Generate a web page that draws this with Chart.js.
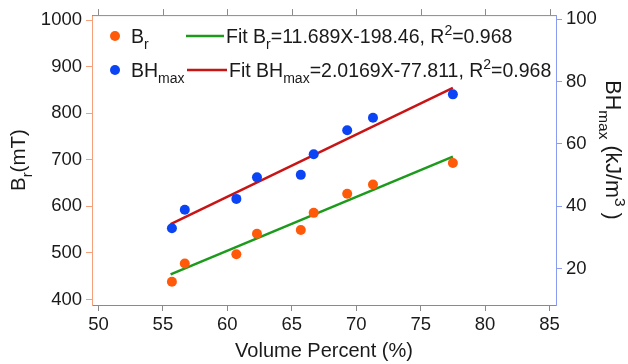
<!DOCTYPE html>
<html><head><meta charset="utf-8">
<script src="https://cdn.jsdelivr.net/npm/chart.js@4/dist/chart.umd.min.js"></script>
<style>html,body{margin:0;padding:0;background:#fff}#wrap{width:628px;height:364px}</style>
</head><body><div id="wrap"><canvas id="c" width="628" height="364"></canvas></div>
<script>
// ---- data ----
const volumePercent = [55.7, 56.7, 60.7, 62.3, 65.7, 66.7, 69.3, 71.3, 77.5];
const brValues      = [438, 477, 497, 541, 549, 586, 627, 647, 693];
const bhmaxValues   = [33.0, 38.9, 42.4, 49.3, 50.1, 56.7, 64.4, 68.4, 75.9];
const fitX     = [55.6, 77.5];
const fitBr    = [454, 707];
const fitBhmax = [34.3, 78.0];
const xTicks  = [50, 55, 60, 65, 70, 75, 80, 85];
const brTicks = [400, 500, 600, 700, 800, 900, 1000];
const bhTicks = [20, 40, 60, 80, 100];

const FONT = '"Liberation Sans", Arial, sans-serif';
const ORANGE = '#ff5a0a', BLUE = '#0a44f5', GREEN = '#1c9a1c', RED = '#c81414';
const ORANGE_AX = '#f5a07a', BLUE_AX = '#8a9cf2', GRAY = '#8a8a8a';

const pts = (xs, ys) => xs.map((x, i) => ({x, y: ys[i]}));

function drawRich(ctx, parts, x, y, size) {
  let cx = x;
  for (const p of parts) {
    const s = p.sub || p.sup ? size * 0.72 : size;
    const dy = p.sub ? size * 0.32 : (p.sup ? -size * 0.42 : 0);
    ctx.font = s + 'px ' + FONT;
    ctx.fillText(p.t, cx, y + dy);
    cx += ctx.measureText(p.t).width;
  }
  return cx - x;
}
function richWidth(ctx, parts, size) {
  let w = 0;
  for (const p of parts) {
    const s = p.sub || p.sup ? size * 0.72 : size;
    ctx.font = s + 'px ' + FONT;
    w += ctx.measureText(p.t).width;
  }
  return w;
}

const extras = {
  id: 'extras',
  afterDraw(chart) {
    const ctx = chart.ctx, a = chart.chartArea, xs = chart.scales.x;
    ctx.save();
    // top frame + outward ticks
    ctx.strokeStyle = GRAY; ctx.lineWidth = 1;
    ctx.beginPath();
    ctx.moveTo(a.left, a.top + 0.5); ctx.lineTo(a.right, a.top + 0.5);
    for (const v of xTicks) {
      const px = Math.round(xs.getPixelForValue(v)) + 0.5;
      ctx.moveTo(px, a.top); ctx.lineTo(px, a.top - 6);
    }
    ctx.stroke();

    ctx.fillStyle = '#1a1a1a';
    ctx.textBaseline = 'alphabetic';
    ctx.textAlign = 'left';
    // legend
    const rows = [
      {y: 36, color: ORANGE, line: GREEN, name: [{t: 'B'}, {t: 'r', sub: 1}],
       fit: [{t: 'Fit B'}, {t: 'r', sub: 1}, {t: '=11.689X-198.46, R'}, {t: '2', sup: 1}, {t: '=0.968'}], l0: 186, l1: 224, tx: 226},
      {y: 70, color: BLUE, line: RED, name: [{t: 'BH'}, {t: 'max', sub: 1}],
       fit: [{t: 'Fit BH'}, {t: 'max', sub: 1}, {t: '=2.0169X-77.811, R'}, {t: '2', sup: 1}, {t: '=0.968'}], l0: 187, l1: 227, tx: 229}
    ];
    for (const r of rows) {
      ctx.fillStyle = r.color;
      ctx.beginPath(); ctx.arc(115, r.y, 5, 0, Math.PI * 2); ctx.fill();
      ctx.strokeStyle = r.line; ctx.lineWidth = 2.5;
      ctx.beginPath(); ctx.moveTo(r.l0, r.y); ctx.lineTo(r.l1, r.y); ctx.stroke();
      ctx.fillStyle = '#1a1a1a';
      drawRich(ctx, r.name, 131, r.y + 7, 19.5);
      drawRich(ctx, r.fit, r.tx, r.y + 7, 19.5);
    }
    // x title
    ctx.font = '20px ' + FONT;
    ctx.textAlign = 'center';
    ctx.fillText('Volume Percent (%)', (a.left + a.right) / 2, 357);
    ctx.textAlign = 'left';
    // left title
    const lt = [{t: 'B'}, {t: 'r', sub: 1}, {t: '(mT)'}];
    ctx.save();
    ctx.translate(25, (a.top + a.bottom) / 2);
    ctx.rotate(-Math.PI / 2);
    drawRich(ctx, lt, -richWidth(ctx, lt, 20.5) / 2, 0, 20.5);
    ctx.restore();
    // right title
    const rt = [{t: 'BH'}, {t: 'max', sub: 1}, {t: ' (kJ/m'}, {t: '3', sup: 1}, {t: ' )'}];
    ctx.save();
    ctx.translate(606, 150);
    ctx.rotate(Math.PI / 2);
    drawRich(ctx, rt, -richWidth(ctx, rt, 21.5) / 2, 0, 21.5);
    ctx.restore();
    ctx.restore();
  }
};

const tickFmt = v => String(v);

new Chart(document.getElementById('c'), {
  data: {
    datasets: [
      {type: 'scatter', label: 'Br', data: pts(volumePercent, brValues), yAxisID: 'y',
       pointRadius: 5, pointHoverRadius: 5, pointBackgroundColor: ORANGE, pointBorderWidth: 0, showLine: false},
      {type: 'scatter', label: 'BHmax', data: pts(volumePercent, bhmaxValues), yAxisID: 'y1',
       pointRadius: 5, pointHoverRadius: 5, pointBackgroundColor: BLUE, pointBorderWidth: 0, showLine: false},
      {type: 'line', label: 'Fit Br', data: pts(fitX, fitBr), yAxisID: 'y',
       borderColor: GREEN, borderWidth: 2.5, pointRadius: 0, fill: false},
      {type: 'line', label: 'Fit BHmax', data: pts(fitX, fitBhmax), yAxisID: 'y1',
       borderColor: RED, borderWidth: 2.5, pointRadius: 0, fill: false}
    ]
  },
  options: {
    responsive: false, animation: false, devicePixelRatio: 1,
    layout: {padding: {top: 12, left: 0, right: 0, bottom: 0}},
    plugins: {legend: {display: false}, tooltip: {enabled: false}},
    scales: {
      x: {type: 'linear', position: 'bottom', min: 49.5, max: 85.5,
          afterBuildTicks: s => { s.ticks = xTicks.map(v => ({value: v})); },
          afterFit: s => { s.height = 59; },
          ticks: {font: {size: 18.5, family: FONT}, color: '#1a1a1a', padding: 3, autoSkip: false, maxRotation: 0, callback: tickFmt},
          grid: {drawOnChartArea: false, drawTicks: true, tickLength: 6, color: GRAY},
          border: {color: GRAY}},
      y: {type: 'linear', position: 'left', min: 388, max: 1011,
          afterBuildTicks: s => { s.ticks = brTicks.map(v => ({value: v})); },
          afterFit: s => { s.width = 92; },
          ticks: {font: {size: 18.5, family: FONT}, color: '#1a1a1a', padding: 4, callback: tickFmt},
          grid: {drawOnChartArea: false, drawTicks: true, tickLength: 6, color: ORANGE_AX},
          border: {color: ORANGE_AX}},
      y1: {type: 'linear', position: 'right', min: 8.4, max: 101.3,
          afterBuildTicks: s => { s.ticks = bhTicks.map(v => ({value: v})); },
          afterFit: s => { s.width = 72; },
          ticks: {font: {size: 18.5, family: FONT}, color: '#1a1a1a', padding: 4, callback: tickFmt},
          grid: {drawOnChartArea: false, drawTicks: true, tickLength: 6, color: BLUE_AX},
          border: {color: BLUE_AX}}
    }
  },
  plugins: [extras]
});
</script></body></html>
